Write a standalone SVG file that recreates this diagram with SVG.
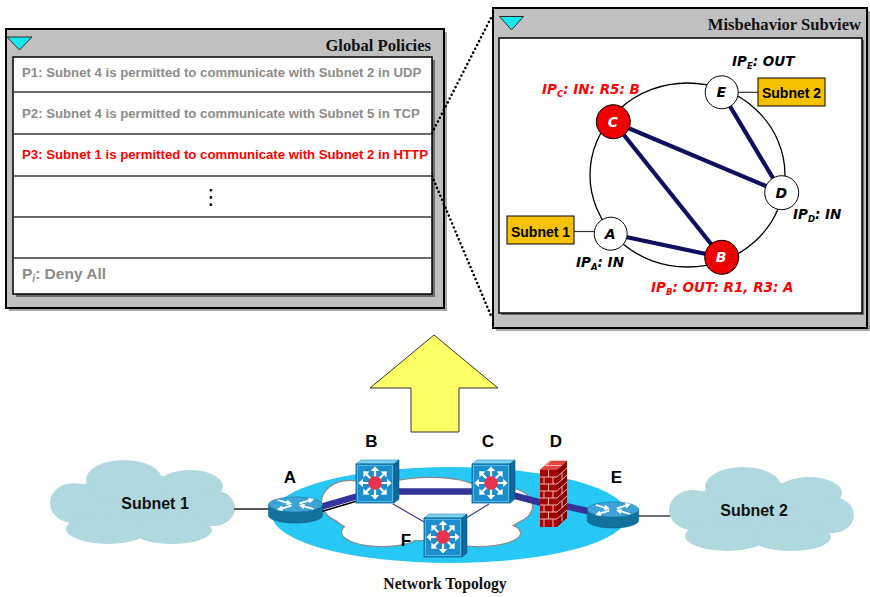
<svg xmlns="http://www.w3.org/2000/svg" xmlns:xlink="http://www.w3.org/1999/xlink" width="870" height="597" viewBox="0 0 870 597">
  <style>
    .frame { fill: #c0c0c0; stroke: #000; stroke-width: 2; }
    .frame-shadow { fill: #a8a8a8; }
    .pane { fill: #fff; stroke: #000; stroke-width: 1.5; }
    .pane-shadow { fill: #6e6e6e; }
    .rowline { stroke: #3a3a3a; stroke-width: 1.5; }
    .title { font-family: "Liberation Serif", "Times New Roman", serif; font-weight: bold; font-size: 16.6px; fill: #111; }
    .toggle { fill: #19e6ef; stroke: #2a2a2a; stroke-width: 1; }
    .policy { font-family: "Liberation Sans", Arial, sans-serif; font-weight: bold; font-size: 13.2px; fill: #8c8c8c; }
    .policy.last { font-size: 15.5px; }
    .zoomline { fill: none; stroke: #000; stroke-width: 2.6; stroke-linecap: round; stroke-dasharray: 0 4.3; }
    .ring { fill: none; stroke: #000; stroke-width: 1.3; }
    .path { stroke: #0f0f62; stroke-width: 4.2; stroke-linecap: round; }
    .attach { stroke: #333; stroke-width: 1.2; }
    .vnode { stroke: #000; stroke-width: 1; }
    .vnode-ok { fill: #fff; }
    .vnode-bad { fill: #ee0000; }
    .vlabel { font-family: "DejaVu Sans", Verdana, sans-serif; font-weight: bold; font-style: italic; font-size: 13.5px; fill: #000; }
    .vlabel tspan.sub { font-size: 8.5px; }
    .nletter { font-family: "DejaVu Sans", Verdana, sans-serif; font-weight: bold; font-style: italic; font-size: 14px; text-anchor: middle; fill: #000; }
    .nletter.inv { fill: #fff; }
    .subnetbox { fill: #f6c200; stroke: #000; stroke-width: 1; }
    .boxtext { font-family: "Liberation Sans", Arial, sans-serif; font-weight: bold; font-size: 14px; fill: #000; text-anchor: middle; }
    .cloud { fill: #afd9de; }
    .cloudtext { font-family: "Liberation Sans", Arial, sans-serif; font-weight: bold; font-size: 16px; fill: #111; text-anchor: middle; }
    .devlabel { font-family: "Liberation Sans", Arial, sans-serif; font-weight: bold; font-size: 17px; fill: #000; text-anchor: middle; }
    .trunk { stroke: #333399; stroke-width: 6.5; }
    .branch { stroke: #333399; stroke-width: 1.1; }
    .wire { stroke: #222; stroke-width: 1.3; }
    .mortar { stroke: #f3b2b2; stroke-width: 1; fill: none; }
    .policy.alert, .vlabel.alert { fill: #ff0000; }
  </style>

  <defs>
    <!-- white ray of a multilayer switch face, pointing right from the hub at (19,19) -->
    <path id="ray" d="M25,17.9 h6 v-3.2 l4.6,4.3 l-4.6,4.3 v-3.2 h-6 z" fill="#fff"/>
    <!-- multilayer switch cube, origin at the top-left of its front face -->
    <g id="mls">
      <polygon points="0,0 5,-4 43,-4 38,0" fill="#7ed3f2" stroke="#2a86b8" stroke-width="0.6"/>
      <polygon points="38,0 43,-4 43,35 38,39" fill="#0e6a9c" stroke="#0a5580" stroke-width="0.6"/>
      <rect x="0" y="0" width="38" height="39" fill="#1b8ecb" stroke="#0d5e8c" stroke-width="0.8"/>
      <rect x="1.5" y="1.5" width="35" height="36" fill="none" stroke="#5fc3ec" stroke-width="0.8"/>
      <use xlink:href="#ray"/>
      <use xlink:href="#ray" transform="rotate(45 19 19)"/>
      <use xlink:href="#ray" transform="rotate(90 19 19)"/>
      <use xlink:href="#ray" transform="rotate(135 19 19)"/>
      <use xlink:href="#ray" transform="rotate(180 19 19)"/>
      <use xlink:href="#ray" transform="rotate(225 19 19)"/>
      <use xlink:href="#ray" transform="rotate(270 19 19)"/>
      <use xlink:href="#ray" transform="rotate(315 19 19)"/>
      <circle cx="19" cy="19" r="6.8" fill="#e8334f"/>
    </g>
    <marker id="rhead" viewBox="0 0 6 6" refX="3" refY="3" markerWidth="3.2" markerHeight="3.2" orient="auto">
      <path d="M0,0 L6,3 L0,6 z" fill="#fff"/>
    </marker>
    <!-- router puck, origin at the centre of its top face -->
    <g id="router">
      <path d="M-27,0 v11 a27,7.5 0 0 0 54,0 v-11 z" fill="#12719f" stroke="#0c5a80" stroke-width="0.6"/>
      <ellipse cx="0" cy="0" rx="27" ry="7.5" fill="#3ea4d6" stroke="#1c6f98" stroke-width="0.6"/>
      <g stroke="#fff" stroke-width="1.8" fill="none" marker-end="url(#rhead)">
        <path d="M-18,-4.5 L-6,-1.2"/>
        <path d="M18,4.5 L6,1.2"/>
        <path d="M4,-1.2 L16,-4.6"/>
        <path d="M-4,1.2 L-16,4.6"/>
      </g>
    </g>
    <!-- lumpy cloud outline used for both subnets -->
    <g id="cloudshape">
      <ellipse cx="142" cy="505" rx="80" ry="30"/>
      <ellipse cx="124" cy="480" rx="38" ry="20"/>
      <ellipse cx="190" cy="486" rx="33" ry="16"/>
      <ellipse cx="74" cy="503" rx="24" ry="20"/>
      <ellipse cx="213" cy="508" rx="22" ry="18"/>
      <ellipse cx="108" cy="529" rx="42" ry="15"/>
      <ellipse cx="172" cy="530" rx="40" ry="14"/>
    </g>
    <g id="coreshape">
      <ellipse cx="428" cy="513" rx="95" ry="27"/>
      <ellipse cx="350" cy="502" rx="28" ry="21"/>
      <ellipse cx="430" cy="492" rx="50" ry="14"/>
      <ellipse cx="505" cy="506" rx="27" ry="18"/>
      <ellipse cx="382" cy="532" rx="40" ry="14"/>
      <ellipse cx="478" cy="533" rx="42" ry="13"/>
    </g>
  </defs>

  <!-- ===== Global Policies window ===== -->
  <g id="global-policies">
    <rect class="frame-shadow" x="9" y="32" width="438" height="279"/>
    <rect class="frame" x="6" y="29" width="438" height="279"/>
    <polygon class="toggle" points="7,37 32,37 19.5,50"/>
    <text class="title" x="431" y="51" text-anchor="end">Global Policies</text>
    <rect class="pane-shadow" x="16" y="60" width="419" height="237"/>
    <rect class="pane" x="13" y="57" width="419" height="237"/>
    <g>
      <line class="rowline" x1="13" y1="92" x2="432" y2="92"/>
      <line class="rowline" x1="13" y1="134" x2="432" y2="134"/>
      <line class="rowline" x1="13" y1="176" x2="432" y2="176"/>
      <line class="rowline" x1="13" y1="217" x2="432" y2="217"/>
      <line class="rowline" x1="13" y1="258" x2="432" y2="258"/>
    </g>
    <text class="policy" x="22" y="77">P1: Subnet 4 is permitted to communicate with Subnet 2 in UDP</text>
    <text class="policy" x="22" y="118">P2: Subnet 4 is permitted to communicate with Subnet 5 in TCP</text>
    <text class="policy alert" x="22" y="159">P3: Subnet 1 is permitted to communicate with Subnet 2 in HTTP</text>
    <text x="211" y="204" text-anchor="middle" font-family="DejaVu Sans, sans-serif" font-size="21" fill="#000">⋮</text>
    <text class="policy last" x="22" y="279">P<tspan font-style="italic" font-size="10" dy="3">i</tspan><tspan dy="-3">: Deny All</tspan></text>
  </g>

  <!-- ===== Misbehavior Subview window ===== -->
  <g id="misbehavior-subview">
    <rect class="frame-shadow" x="496" y="11" width="374" height="320"/>
    <rect class="frame" x="493" y="8" width="374" height="320"/>
    <polygon class="toggle" points="499.5,16.5 523.5,16.5 511.5,30"/>
    <text class="title" x="861" y="30" text-anchor="end">Misbehavior Subview</text>
    <rect class="pane-shadow" x="501" y="40" width="363" height="275"/>
    <rect class="pane" x="499" y="38" width="363" height="275"/>
    <ellipse class="ring" cx="687.5" cy="175" rx="97.5" ry="92"/>
  </g>

  <!-- zoom guides from policy P3 to the subview -->
  <g id="zoom-guides">
    <line class="zoomline" x1="432" y1="133" x2="492" y2="16"/>
    <line class="zoomline" x1="432" y1="176" x2="492" y2="318"/>
  </g>

  <!-- ===== subview connectors ===== -->
  <g id="subview-links">
    <line class="attach" x1="574" y1="231.5" x2="596" y2="231.5"/>
    <line class="attach" x1="738" y1="92.3" x2="758" y2="92.3"/>
    <line class="path" x1="613.3" y1="121.7" x2="781.7" y2="192.7"/>
    <line class="path" x1="613.3" y1="121.7" x2="721.7" y2="257.3"/>
    <line class="path" x1="610.7" y1="233.7" x2="721.7" y2="257.3"/>
    <line class="path" x1="721.7" y1="92.3" x2="781.7" y2="192.7"/>
  </g>

  <g id="sv-subnet1">
    <rect class="subnetbox" x="507" y="216" width="67" height="28"/>
    <text class="boxtext" x="540.5" y="236.5">Subnet 1</text>
  </g>
  <g id="sv-subnet2">
    <rect class="subnetbox" x="758" y="78" width="67" height="28"/>
    <text class="boxtext" x="791.5" y="97.5">Subnet 2</text>
  </g>

  <g id="sv-node-a">
    <circle class="vnode vnode-ok" cx="610.7" cy="233.7" r="16.5"/>
    <text class="nletter" x="610.2" y="238.7">A</text>
    <text class="vlabel" x="576" y="267">IP<tspan class="sub" dy="3">A</tspan><tspan dy="-3">: IN</tspan></text>
  </g>
  <g id="sv-node-b">
    <circle class="vnode vnode-bad" cx="721.7" cy="257.3" r="17"/>
    <text class="nletter inv" x="721.2" y="262.3">B</text>
    <text class="vlabel alert" x="651" y="292">IP<tspan class="sub" dy="3">B</tspan><tspan dy="-3">: OUT: R1, R3: A</tspan></text>
  </g>
  <g id="sv-node-c">
    <circle class="vnode vnode-bad" cx="613.3" cy="121.7" r="17"/>
    <text class="nletter inv" x="612.8" y="126.7">C</text>
    <text class="vlabel alert" x="542" y="94">IP<tspan class="sub" dy="3">C</tspan><tspan dy="-3">: IN: R5: B</tspan></text>
  </g>
  <g id="sv-node-d">
    <circle class="vnode vnode-ok" cx="781.7" cy="192.7" r="17"/>
    <text class="nletter" x="781.2" y="197.7">D</text>
    <text class="vlabel" x="793" y="219">IP<tspan class="sub" dy="3">D</tspan><tspan dy="-3">: IN</tspan></text>
  </g>
  <g id="sv-node-e">
    <circle class="vnode vnode-ok" cx="721.7" cy="92.3" r="16.5"/>
    <text class="nletter" x="721.2" y="97.3">E</text>
    <text class="vlabel" x="732" y="66">IP<tspan class="sub" dy="3">E</tspan><tspan dy="-3">: OUT</tspan></text>
  </g>

  <!-- ===== drill-up arrow ===== -->
  <g id="drill-arrow">
    <polygon points="434,335 498,388 459,388 459,432 411,432 411,388 370,388" fill="#ffff66" stroke="#333" stroke-width="1"/>
  </g>

  <!-- ===== Network topology ===== -->
  <g id="subnet1-cloud">
    <use xlink:href="#cloudshape" class="cloud"/>
    <text class="cloudtext" x="155" y="509">Subnet 1</text>
  </g>
  <g id="subnet2-cloud">
    <use xlink:href="#cloudshape" class="cloud" transform="translate(619 7)"/>
    <text class="cloudtext" x="754" y="516">Subnet 2</text>
  </g>

  <g id="backbone">
    <ellipse cx="450" cy="515" rx="178" ry="48" fill="#27c8f6"/>
    <use xlink:href="#coreshape" fill="none" stroke="#8a8a8a" stroke-width="2.4"/>
    <use xlink:href="#coreshape" fill="#fff"/>
  </g>

  <g id="topology-links">
    <line class="wire" x1="234" y1="509" x2="270" y2="509"/>
    <line class="wire" x1="638" y1="516" x2="670" y2="516"/>
    <line x1="320" y1="512" x2="357" y2="501" stroke="#000" stroke-width="1.6"/>
    <line class="trunk" x1="320" y1="507" x2="358" y2="496"/>
    <line class="trunk" x1="396" y1="491.5" x2="474" y2="491.5"/>
    <line class="trunk" x1="512" y1="495" x2="542" y2="503"/>
    <line class="trunk" x1="565" y1="506" x2="592" y2="512"/>
    <line class="branch" x1="393" y1="504" x2="426" y2="523"/>
    <line class="branch" x1="489" y1="504" x2="463" y2="520"/>
  </g>

  <g id="dev-a">
    <use xlink:href="#router" transform="translate(295.5 504.5)"/>
    <text class="devlabel" x="290" y="483">A</text>
  </g>
  <g id="dev-b">
    <use xlink:href="#mls" x="356" y="464"/>
    <text class="devlabel" x="371.5" y="447">B</text>
  </g>
  <g id="dev-c">
    <use xlink:href="#mls" x="472" y="464"/>
    <text class="devlabel" x="488" y="447">C</text>
  </g>
  <g id="dev-f">
    <use xlink:href="#mls" x="424" y="518"/>
    <text class="devlabel" x="406" y="546">F</text>
  </g>
  <g id="dev-d">
    <polygon points="540,470 550,461 567,461 557,470" fill="#e0493c" stroke="#b02020" stroke-width="0.5"/>
    <polygon points="557,470 567,461 567,518 557,527" fill="#860000"/>
    <rect x="540" y="470" width="17" height="57" fill="#a60202"/>
    <path class="mortar" d="M540,477 h17 M540,484 h17 M540,491 h17 M540,498 h17 M540,505 h17 M540,512 h17 M540,519 h17
      M548.5,470 v7 M544,477 v7 M553,477 v7 M548.5,484 v7 M544,491 v7 M553,491 v7 M548.5,498 v7 M544,505 v7 M553,505 v7 M548.5,512 v7 M544,519 v8 M553,519 v8"/>
    <path class="mortar" d="M557,477 l10,-9 M557,484 l10,-9 M557,491 l10,-9 M557,498 l10,-9 M557,505 l10,-9 M557,512 l10,-9 M557,519 l10,-9
      M562,472.5 v7 M562,486.5 v7 M562,500.5 v7 M562,514.5 v7"/>
    <path class="mortar" d="M545,465.5 h17 M551,461 l-5,4.5"/>
    <text class="devlabel" x="556" y="447">D</text>
  </g>
  <g id="dev-e">
    <use xlink:href="#router" transform="translate(613 509.5) scale(0.95 1)"/>
    <text class="devlabel" x="616.5" y="483">E</text>
  </g>

  <text id="topology-caption" x="445" y="589" text-anchor="middle" font-family="Liberation Serif, Times New Roman, serif" font-weight="bold" font-size="15.7" fill="#111">Network Topology</text>
</svg>
